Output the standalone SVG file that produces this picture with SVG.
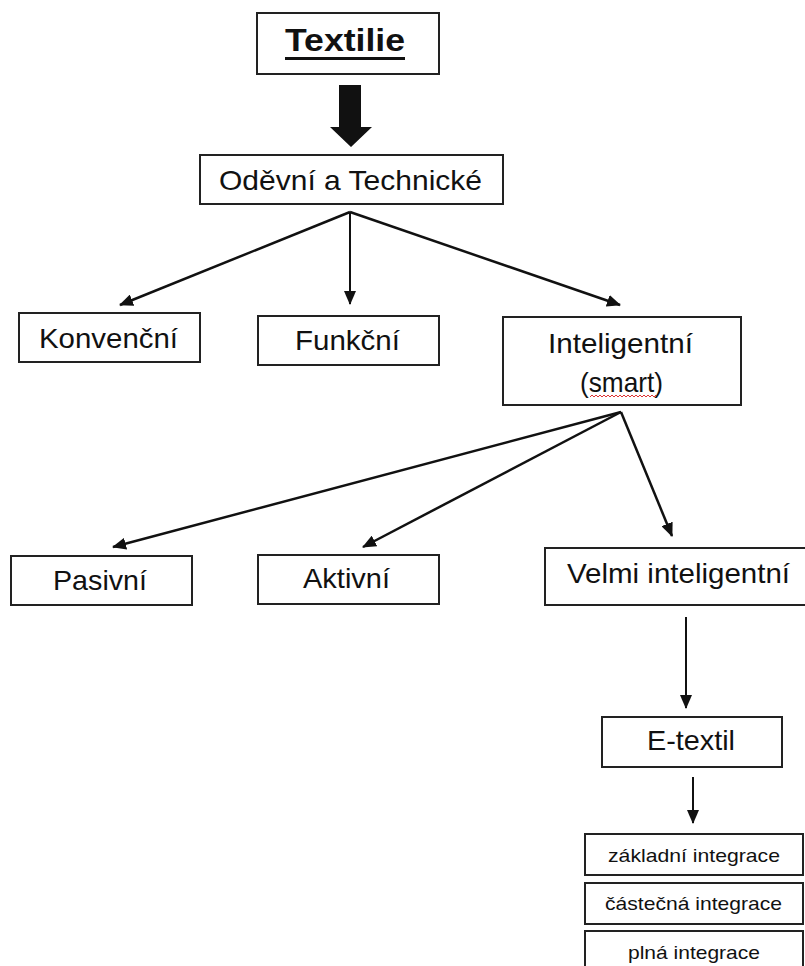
<svg xmlns="http://www.w3.org/2000/svg" width="805" height="966" viewBox="0 0 805 966">
<style>
.box{fill:#fff;stroke:#222;stroke-width:2}
.t{font-family:"Liberation Sans",Arial,sans-serif;font-size:28px;fill:#111;text-anchor:start}
.s{font-family:"Liberation Sans",Arial,sans-serif;font-size:19px;fill:#111}
.c{fill:none;stroke:#111;stroke-width:2.5}
.c2{fill:none;stroke:#111;stroke-width:2}
</style>
<defs>
<marker id="ah" markerUnits="userSpaceOnUse" markerWidth="14" markerHeight="12" refX="13" refY="6" orient="auto">
<path d="M0,0 L14,6 L0,12 Z" fill="#111"/>
</marker>
</defs>
<rect width="805" height="966" fill="#fff"/>
<g id="textilie">
<rect class="box" x="257" y="13" width="182" height="61"/>
<text x="285" y="51" font-family="Liberation Sans,Arial,sans-serif" font-size="32" font-weight="bold" fill="#111" textLength="120" lengthAdjust="spacingAndGlyphs">Textilie</text>
<rect x="285" y="57" width="120" height="3" fill="#111"/>
</g>
<g id="odevni">
<rect class="box" x="200" y="155" width="303" height="49"/>
<text class="t" x="219" y="190" textLength="263" lengthAdjust="spacingAndGlyphs">Oděvní a Technické</text>
</g>
<g id="konvencni">
<rect class="box" x="19" y="313" width="181" height="49"/>
<text class="t" x="39" y="348" textLength="139" lengthAdjust="spacingAndGlyphs">Konvenční</text>
</g>
<g id="funkcni">
<rect class="box" x="258" y="316" width="181" height="49"/>
<text class="t" x="295" y="350" textLength="105" lengthAdjust="spacingAndGlyphs">Funkční</text>
</g>
<g id="inteligentni">
<rect class="box" x="503" y="317" width="238" height="88"/>
<text class="t" x="548" y="353" textLength="145" lengthAdjust="spacingAndGlyphs">Inteligentní</text>
<text class="t" x="580" y="392" textLength="83" lengthAdjust="spacingAndGlyphs">(smart)</text>
<path d="M590,397 l2,-2 l2,2 l2,-2 l2,2 l2,-2 l2,2 l2,-2 l2,2 l2,-2 l2,2 l2,-2 l2,2 l2,-2 l2,2 l2,-2 l2,2 l2,-2 l2,2 l2,-2 l2,2 l2,-2 l2,2 l2,-2 l2,2 l2,-2 l2,2 l2,-2 l2,2 l2,-2 l2,2 l2,-2 l2,2 l2,-2" fill="none" stroke="#d33" stroke-width="1"/>
</g>
<g id="pasivni">
<rect class="box" x="11" y="556" width="181" height="49"/>
<text class="t" x="53" y="590" textLength="94" lengthAdjust="spacingAndGlyphs">Pasivní</text>
</g>
<g id="aktivni">
<rect class="box" x="258" y="555" width="181" height="49"/>
<text class="t" x="303" y="588" textLength="87" lengthAdjust="spacingAndGlyphs">Aktivní</text>
</g>
<g id="velmi">
<rect class="box" x="545" y="548" width="262" height="57"/>
<text class="t" x="567" y="583" textLength="223" lengthAdjust="spacingAndGlyphs">Velmi inteligentní</text>
</g>
<g id="etextil">
<rect class="box" x="602" y="717" width="180" height="50"/>
<text class="t" x="647" y="750" textLength="88" lengthAdjust="spacingAndGlyphs">E-textil</text>
</g>
<g id="zakladni">
<rect class="box" x="585" y="834" width="218" height="41"/>
<text class="s" x="608" y="862" textLength="172" lengthAdjust="spacingAndGlyphs">základní integrace</text>
</g>
<g id="castecna">
<rect class="box" x="585" y="883" width="218" height="41"/>
<text class="s" x="605" y="910" textLength="177" lengthAdjust="spacingAndGlyphs">částečná integrace</text>
</g>
<g id="plna">
<rect class="box" x="585" y="931" width="218" height="45"/>
<text class="s" x="628" y="959" textLength="132" lengthAdjust="spacingAndGlyphs">plná integrace</text>
</g>
<g id="connectors">
<polygon points="339,85 361,85 361,127 372,127 351,147 330,127 339,127" fill="#111"/>
<line class="c" x1="350" y1="212" x2="120" y2="305" marker-end="url(#ah)"/>
<line class="c2" x1="350" y1="212" x2="350" y2="304" marker-end="url(#ah)"/>
<line class="c" x1="350" y1="212" x2="620" y2="305" marker-end="url(#ah)"/>
<line class="c" x1="621" y1="412" x2="113" y2="547" marker-end="url(#ah)"/>
<line class="c" x1="621" y1="412" x2="363" y2="547" marker-end="url(#ah)"/>
<line class="c" x1="621" y1="412" x2="672" y2="536" marker-end="url(#ah)"/>
<line class="c2" x1="686" y1="617" x2="686" y2="708" marker-end="url(#ah)"/>
<line class="c2" x1="693" y1="777" x2="693" y2="823" marker-end="url(#ah)"/>
</g>
</svg>
